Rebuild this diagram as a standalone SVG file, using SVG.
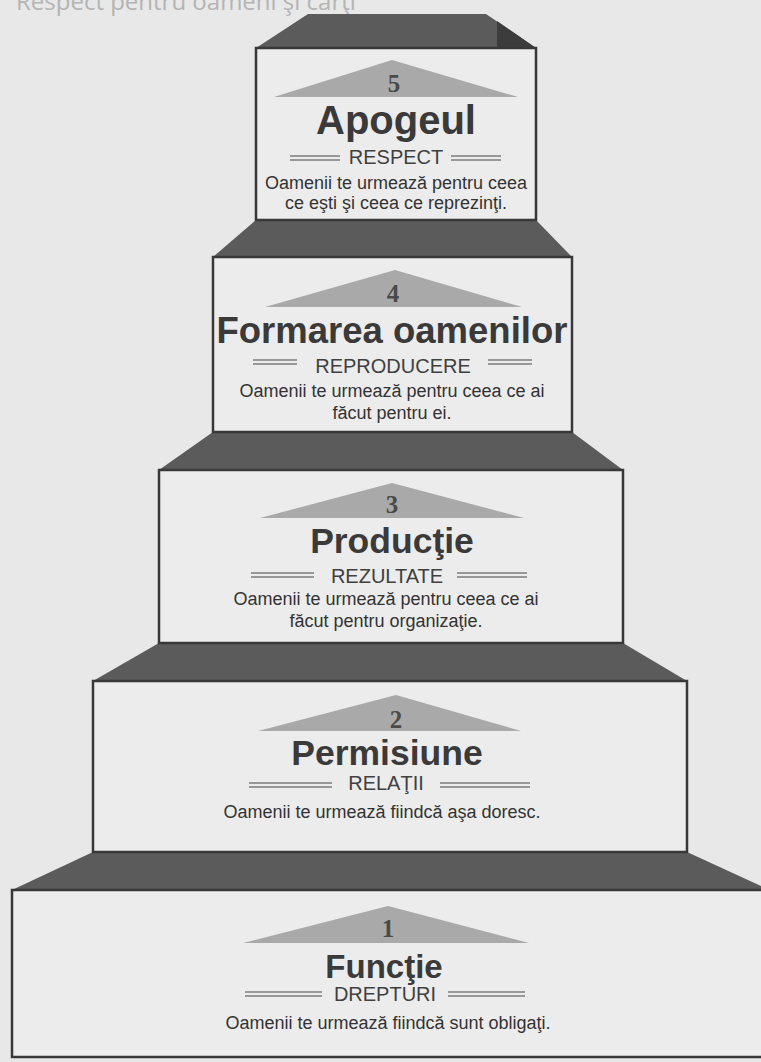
<svg xmlns="http://www.w3.org/2000/svg" width="761" height="1062" viewBox="0 0 761 1062">
<style>
.bg{fill:#e8e8e8}
.roof{fill:#5b5b5b}
.shade{fill:#3c3c3c}
.box{fill:#ececec;stroke:#383838;stroke-width:2.5}
.tri{fill:#a9a9a9}
.num{font-family:"Liberation Serif",serif;font-weight:bold;font-size:25px;fill:#4a4a4a;text-anchor:middle}
.title{font-family:"Liberation Sans",Arial,sans-serif;font-weight:bold;fill:#3a3a3a;text-anchor:middle}
.sub{font-family:"Liberation Sans",Arial,sans-serif;font-size:20px;fill:#404040;text-anchor:middle}
.body{font-family:"Liberation Sans",Arial,sans-serif;font-size:18px;fill:#333;text-anchor:middle}
.rule{stroke:#444;stroke-width:1.2;fill:none}
.wm{font-family:"Open Sans","Liberation Sans",sans-serif;font-size:24px;fill:#b4b4b4}
</style>
<rect class="bg" x="0" y="0" width="761" height="1062"/>
<text class="wm" x="16" y="10">Respect pentru oameni şi cărţi</text>

<g id="roofs">
<polygon class="roof" points="308,14 486,14 536,48 256,48"/>
<polygon class="shade" points="497,21 536,48 497,48"/>
<polygon class="roof" points="256,220 536,220 572,257 213,257"/>
<polygon class="roof" points="213,432 572,432 623,470 159,470"/>
<polygon class="roof" points="159,643 623,643 687,681 93,681"/>
<polygon class="roof" points="93,852 687,852 770,890 12,890"/>
</g>

<g id="level5">
<rect class="box" x="256" y="48" width="280" height="172"/>
<polygon class="tri" points="274,97 392,60 518,97"/>
<text class="num" x="394" y="92">5</text>
<text class="title" x="396" y="134" font-size="40">Apogeul</text>
<path class="rule" d="M290,156H340M290,160H340M451,156H501M451,160H501"/>
<text class="sub" x="396" y="164">RESPECT</text>
<text class="body" x="396" y="189">Oamenii te urmează pentru ceea</text>
<text class="body" x="396" y="209">ce eşti şi ceea ce reprezinţi.</text>
</g>

<g id="level4">
<rect class="box" x="213" y="257" width="359" height="175"/>
<polygon class="tri" points="265,307 395,270 522,307"/>
<text class="num" x="393" y="302">4</text>
<text class="title" x="392" y="343" font-size="36.5">Formarea oamenilor</text>
<path class="rule" d="M253,360H297M253,364H297M488,360H532M488,364H532"/>
<text class="sub" x="393" y="373">REPRODUCERE</text>
<text class="body" x="392" y="397">Oamenii te urmează pentru ceea ce ai</text>
<text class="body" x="392" y="419">făcut pentru ei.</text>
</g>

<g id="level3">
<rect class="box" x="159" y="470" width="464" height="173"/>
<polygon class="tri" points="260,518 392,483 524,518"/>
<text class="num" x="392" y="513">3</text>
<text class="title" x="392" y="553" font-size="35.5">Producţie</text>
<path class="rule" d="M251,573H314M251,577H314M457,573H527M457,577H527"/>
<text class="sub" x="387" y="583">REZULTATE</text>
<text class="body" x="386" y="605">Oamenii te urmează pentru ceea ce ai</text>
<text class="body" x="386" y="627">făcut pentru organizaţie.</text>
</g>

<g id="level2">
<rect class="box" x="93" y="681" width="594" height="171"/>
<polygon class="tri" points="258,731 396,695 521,731"/>
<text class="num" x="396" y="728">2</text>
<text class="title" x="387" y="765" font-size="35.5">Permisiune</text>
<path class="rule" d="M249,783H332M249,787H332M440,783H530M440,787H530"/>
<text class="sub" x="386" y="790">RELAŢII</text>
<text class="body" x="382" y="818">Oamenii te urmează fiindcă aşa doresc.</text>
</g>

<g id="level1">
<rect class="box" x="12" y="890" width="760" height="167"/>
<polygon class="tri" points="243,943 388,906 529,943"/>
<text class="num" x="388" y="937">1</text>
<text class="title" x="384" y="978" font-size="33">Funcţie</text>
<path class="rule" d="M245,992H322M245,996H322M448,992H525M448,996H525"/>
<text class="sub" x="385" y="1001" font-size="19">DREPTURI</text>
<text class="body" x="388" y="1029">Oamenii te urmează fiindcă sunt obligaţi.</text>
</g>
</svg>
